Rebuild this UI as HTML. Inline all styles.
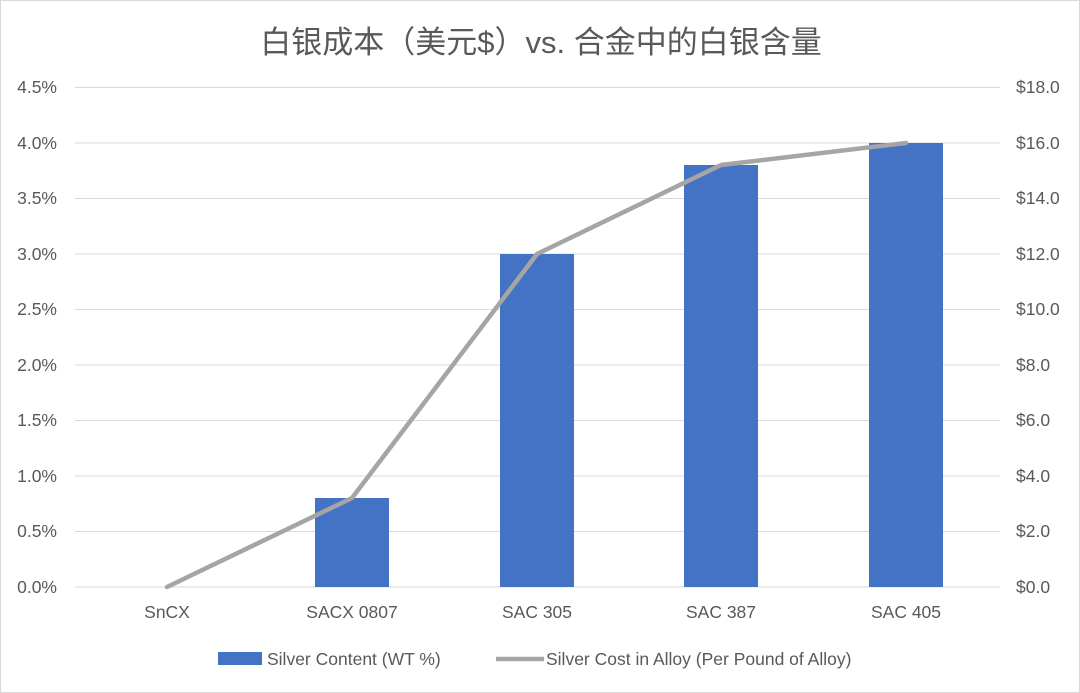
<!DOCTYPE html>
<html><head><meta charset="utf-8"><style>
body{margin:0;background:#fff;}
svg{display:block;font-family:"Liberation Sans","Noto Sans CJK SC",sans-serif;}
</style></head><body>
<svg width="1080" height="693" viewBox="0 0 1080 693">
<rect x="0.5" y="0.5" width="1079" height="692" fill="#fff" stroke="#d9d9d9"/>
<text x="541" y="53" text-anchor="middle" font-size="31" fill="#595959">白银成本（美元$）vs. 合金中的白银含量</text>
<g stroke="#d9d9d9" stroke-width="1">
<line x1="75" x2="1000" y1="87.5" y2="87.5"/>
<line x1="75" x2="1000" y1="143" y2="143"/>
<line x1="75" x2="1000" y1="198.5" y2="198.5"/>
<line x1="75" x2="1000" y1="254" y2="254"/>
<line x1="75" x2="1000" y1="309.5" y2="309.5"/>
<line x1="75" x2="1000" y1="365" y2="365"/>
<line x1="75" x2="1000" y1="420.5" y2="420.5"/>
<line x1="75" x2="1000" y1="476" y2="476"/>
<line x1="75" x2="1000" y1="531.5" y2="531.5"/>
<line x1="75" x2="1000" y1="587" y2="587"/>
</g>
<g font-size="17.5" fill="#595959" text-anchor="end">
<text x="57" y="93">4.5%</text><text x="57" y="149">4.0%</text><text x="57" y="204">3.5%</text>
<text x="57" y="260">3.0%</text><text x="57" y="315">2.5%</text><text x="57" y="371">2.0%</text>
<text x="57" y="426">1.5%</text><text x="57" y="482">1.0%</text><text x="57" y="537">0.5%</text>
<text x="57" y="593">0.0%</text>
</g>
<g font-size="17.5" fill="#595959">
<text x="1016" y="93">$18.0</text><text x="1016" y="149">$16.0</text><text x="1016" y="204">$14.0</text>
<text x="1016" y="260">$12.0</text><text x="1016" y="315">$10.0</text><text x="1016" y="371">$8.0</text>
<text x="1016" y="426">$6.0</text><text x="1016" y="482">$4.0</text><text x="1016" y="537">$2.0</text>
<text x="1016" y="593">$0.0</text>
</g>
<g fill="#4472c4">
<rect x="315" y="498" width="74" height="89"/>
<rect x="500" y="254" width="74" height="333"/>
<rect x="684" y="165" width="74" height="422"/>
<rect x="869" y="143" width="74" height="444"/>
</g>
<polyline points="167,587 352,498 537,254 721,165 906,143" fill="none" stroke="#a5a5a5" stroke-width="4.5" stroke-linejoin="round" stroke-linecap="round"/>
<g font-size="17.5" fill="#595959" text-anchor="middle">
<text x="167" y="618">SnCX</text><text x="352" y="618">SACX 0807</text><text x="537" y="618">SAC 305</text>
<text x="721" y="618">SAC 387</text><text x="906" y="618">SAC 405</text>
</g>
<rect x="218" y="652" width="44" height="13" fill="#4472c4"/>
<text x="267" y="665" font-size="17.5" fill="#595959">Silver Content (WT %)</text>
<line x1="496" x2="544" y1="659" y2="659" stroke="#a5a5a5" stroke-width="4.5"/>
<text x="546" y="665" font-size="17.5" fill="#595959">Silver Cost in Alloy (Per Pound of Alloy)</text>
</svg>
</body></html>
